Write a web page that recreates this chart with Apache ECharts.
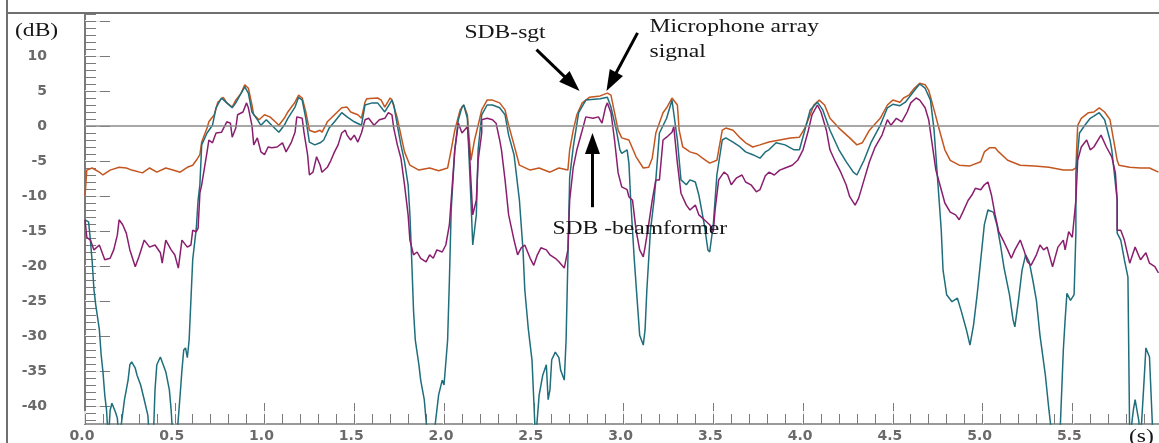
<!DOCTYPE html>
<html>
<head>
<meta charset="utf-8">
<script src="https://cdn.jsdelivr.net/npm/echarts@6/dist/echarts.min.js"></script>
<style>
  html, body { margin: 0; padding: 0; background: #fff; }
  #chart { width: 1159px; height: 443px; }
</style>
</head>
<body>
<div id="chart"></div>
<script>
// Level of each signal over time: time in seconds, level in dB.
// Values below the bottom of the scale are clipped by the plot area.

// Microphone array signal
const micT = [0.00,0.01,0.04,0.08,0.10,0.14,0.19,0.23,0.26,0.32,
  0.36,0.40,0.45,0.49,0.53,0.57,0.60,0.62,0.64,0.65,
  0.68,0.69,0.72,0.74,0.77,0.79,0.82,0.84,0.87,0.89,
  0.91,0.93,0.94,0.97,1.00,1.03,1.06,1.08,1.11,1.13,
  1.17,1.19,1.21,1.23,1.25,1.28,1.31,1.32,1.35,1.39,
  1.43,1.46,1.48,1.52,1.54,1.56,1.57,1.63,1.65,1.67,
  1.70,1.71,1.74,1.76,1.78,1.81,1.86,1.92,1.97,2.02,
  2.04,2.06,2.09,2.11,2.13,2.15,2.17,2.19,2.21,2.24,
  2.27,2.31,2.34,2.36,2.39,2.42,2.48,2.53,2.59,2.64,
  2.69,2.70,2.72,2.74,2.77,2.81,2.87,2.91,2.93,2.95,
  2.97,2.99,3.03,3.07,3.11,3.14,3.16,3.18,3.22,3.24,
  3.27,3.30,3.31,3.33,3.37,3.41,3.44,3.48,3.52,3.55,
  3.57,3.61,3.65,3.68,3.72,3.76,3.81,3.87,3.93,3.98,
  4.01,4.04,4.06,4.09,4.12,4.15,4.20,4.26,4.30,4.33,
  4.37,4.43,4.47,4.50,4.54,4.56,4.59,4.62,4.65,4.68,
  4.70,4.73,4.76,4.79,4.82,4.87,4.93,4.99,5.01,5.04,
  5.07,5.09,5.14,5.21,5.29,5.37,5.45,5.50,5.52,5.53,
  5.55,5.59,5.62,5.65,5.68,5.71,5.73,5.75,5.76,5.82,
  5.88,5.93,5.98];
const micDb = [-10.0,-6.3,-6.0,-6.6,-7.0,-6.3,-5.9,-6.0,-6.3,-6.7,
  -6.0,-6.6,-6.0,-6.3,-6.6,-5.9,-5.6,-4.9,-4.1,-2.3,
  -0.3,0.6,1.6,3.4,4.1,3.3,2.7,3.7,4.7,5.9,
  5.4,3.0,1.6,0.9,1.6,1.3,0.6,0.1,1.1,2.0,
  3.4,4.4,4.0,2.0,-0.6,-0.9,-0.6,-0.9,0.6,1.6,
  2.6,2.7,2.0,1.6,1.1,3.4,3.9,4.0,3.7,2.7,
  4.0,3.7,1.1,-1.3,-3.7,-5.6,-6.3,-6.0,-6.4,-6.0,
  -3.4,-0.6,2.3,3.0,1.6,-4.9,-2.0,0.1,2.3,3.7,
  3.7,3.3,2.3,0.1,-2.7,-5.6,-6.3,-6.0,-6.6,-6.0,
  -6.3,-3.4,-0.6,1.6,3.3,4.1,4.3,4.7,4.4,1.9,
  -0.6,-1.7,-2.0,-4.4,-6.0,-5.9,-4.6,-1.0,1.9,2.6,
  4.0,3.0,-0.6,-3.0,-3.7,-4.0,-4.6,-5.3,-4.9,-0.6,
  -0.3,-0.6,-1.7,-2.4,-3.0,-2.7,-2.3,-2.0,-1.7,-1.6,
  -0.3,1.6,3.0,3.7,3.0,1.1,-0.3,-1.7,-2.7,-2.4,
  -0.6,1.1,3.0,3.7,3.4,4.0,4.4,5.4,6.1,5.9,
  5.1,2.3,-0.6,-3.4,-4.9,-5.6,-5.7,-5.1,-3.7,-3.1,
  -3.1,-3.7,-4.9,-5.6,-5.7,-5.9,-6.3,-6.3,-6.0,0.1,
  1.1,1.9,2.0,2.6,2.0,0.9,-2.0,-4.9,-5.6,-5.9,
  -6.0,-6.0,-6.6];

// SDB-sgt output
const sgtT = [0.00,0.02,0.03,0.04,0.05,0.06,0.08,0.09,0.10,0.11,
  0.12,0.13,0.14,0.15,0.17,0.18,0.19,0.20,0.22,0.24,
  0.25,0.26,0.28,0.29,0.31,0.33,0.35,0.36,0.38,0.39,
  0.40,0.42,0.43,0.45,0.47,0.48,0.49,0.51,0.53,0.54,
  0.55,0.56,0.57,0.58,0.59,0.60,0.62,0.63,0.64,0.65,
  0.68,0.71,0.73,0.76,0.79,0.82,0.84,0.87,0.89,0.91,
  0.93,0.96,0.98,1.01,1.04,1.08,1.11,1.13,1.17,1.19,
  1.21,1.23,1.25,1.28,1.31,1.33,1.36,1.39,1.43,1.46,
  1.50,1.54,1.56,1.60,1.63,1.67,1.71,1.72,1.74,1.76,
  1.78,1.80,1.81,1.82,1.83,1.84,1.86,1.87,1.89,1.91,
  1.94,1.97,1.99,2.00,2.02,2.03,2.04,2.06,2.08,2.10,
  2.11,2.13,2.15,2.16,2.18,2.19,2.21,2.24,2.27,2.31,
  2.34,2.36,2.39,2.42,2.44,2.45,2.47,2.49,2.50,2.51,
  2.52,2.53,2.55,2.57,2.58,2.59,2.60,2.62,2.64,2.65,
  2.67,2.68,2.69,2.70,2.72,2.75,2.79,2.87,2.91,2.93,
  2.96,2.98,2.99,3.02,3.03,3.04,3.06,3.08,3.09,3.11,
  3.12,3.13,3.15,3.17,3.18,3.20,3.24,3.27,3.30,3.32,
  3.35,3.37,3.40,3.42,3.45,3.47,3.48,3.50,3.52,3.55,
  3.57,3.61,3.65,3.68,3.72,3.76,3.79,3.81,3.85,3.90,
  3.95,3.98,4.01,4.04,4.08,4.11,4.15,4.20,4.24,4.28,
  4.30,4.34,4.38,4.43,4.47,4.50,4.54,4.57,4.60,4.63,
  4.65,4.68,4.71,4.73,4.75,4.77,4.78,4.80,4.83,4.86,
  4.88,4.91,4.93,4.95,4.97,4.99,5.01,5.03,5.06,5.08,
  5.10,5.12,5.15,5.17,5.18,5.20,5.22,5.24,5.26,5.28,
  5.30,5.32,5.35,5.37,5.39,5.43,5.45,5.46,5.47,5.49,
  5.51,5.52,5.52,5.54,5.57,5.60,5.62,5.65,5.68,5.71,
  5.72,5.75,5.75,5.77,5.79,5.81,5.82,5.84,5.85,5.87,
  5.88,5.90,5.91,5.93,5.95,5.98];
const sgtDb = [-13.4,-13.7,-16.3,-19.4,-23.4,-25.6,-29.1,-32.7,-35.1,-38.4,
  -40.6,-45,-40.6,-39.6,-40.9,-41.7,-45,-45,-39.1,-36.3,
  -34.1,-33.7,-34.6,-35.6,-37.0,-39.1,-41.3,-45,-45,-37.7,
  -34.1,-33.0,-33.7,-35.1,-37.7,-40.6,-45,-45,-38.4,-34.9,
  -32.0,-31.7,-33.1,-30.6,-24.9,-19.1,-14.6,-10.6,-8.4,-2.7,
  -1.0,0.1,2.6,4.0,3.3,2.6,3.3,4.7,5.6,4.7,
  2.0,0.9,0.1,0.9,0.1,-0.9,0.1,1.1,2.7,4.1,
  3.7,1.1,-2.3,-2.7,-2.4,-2.0,-0.3,0.6,1.9,1.3,
  0.6,0.1,3.0,3.3,3.3,2.0,3.7,3.0,0.1,-2.7,
  -5.1,-8.4,-12.7,-19.1,-26.3,-30.6,-34.1,-36.3,-39.1,-45,
  -45,-38.4,-36.3,-37.0,-30.6,-22.0,-12.0,-3.4,0.9,2.7,
  3.0,1.1,-10.6,-17.0,-12.7,-3.4,1.6,3.0,3.0,2.6,
  1.6,-1.3,-4.1,-10.6,-17.7,-23.4,-29.1,-33.4,-39.1,-45,
  -45,-38.4,-35.6,-34.1,-39.1,-37.7,-33.4,-32.3,-33.1,-34.9,
  -36.3,-30.6,-19.1,-7.3,-3.0,1.9,3.7,3.9,4.1,2.7,
  -0.6,-3.4,-3.9,-3.4,-5.3,-10.6,-19.1,-26.3,-29.9,-31.3,
  -29.1,-23.4,-14.9,-10.6,-7.7,-1.0,1.1,3.7,-2.0,-7.7,
  -8.4,-7.7,-8.0,-9.9,-14.1,-17.7,-18.0,-14.1,-7.0,-2.0,
  -1.7,-2.3,-3.0,-3.7,-4.1,-4.6,-3.7,-3.4,-2.4,-2.7,
  -3.4,-3.4,-0.6,2.3,3.4,2.3,-0.6,-3.4,-5.1,-6.6,
  -7.0,-4.9,-2.3,0.1,2.6,3.1,2.9,3.4,4.4,5.4,
  6.0,5.4,3.7,-0.6,-7.7,-14.9,-20.6,-24.1,-25.1,-24.6,
  -26.3,-29.1,-31.3,-28.4,-24.1,-19.1,-14.1,-12.0,-12.3,-14.1,
  -17.0,-20.3,-24.1,-27.7,-28.7,-24.9,-20.6,-18.4,-19.4,-22.0,
  -24.9,-29.9,-35.6,-40.6,-45,-45,-32.0,-27.7,-23.9,-24.9,
  -24.1,-15.3,-6.7,-1.0,0.1,1.1,1.4,1.9,0.9,-2.0,
  -3.4,-10.6,-15.3,-16.3,-19.1,-21.6,-45,-40.6,-39.1,-42.0,
  -45,-36.3,-31.7,-33.0,-45,-45];

// SDB-beamformer output
const bfT = [0.00,0.01,0.03,0.04,0.05,0.08,0.10,0.11,0.14,0.16,
  0.18,0.19,0.21,0.23,0.25,0.28,0.29,0.30,0.33,0.36,
  0.39,0.42,0.43,0.45,0.48,0.50,0.52,0.54,0.57,0.59,
  0.60,0.62,0.63,0.64,0.65,0.68,0.69,0.71,0.73,0.76,
  0.79,0.81,0.82,0.84,0.85,0.88,0.90,0.91,0.93,0.94,
  0.96,0.98,1.00,1.02,1.04,1.07,1.10,1.12,1.15,1.17,
  1.18,1.21,1.22,1.24,1.25,1.27,1.29,1.31,1.32,1.35,
  1.37,1.39,1.41,1.43,1.45,1.46,1.48,1.50,1.52,1.54,
  1.56,1.58,1.61,1.64,1.67,1.69,1.71,1.72,1.74,1.76,
  1.78,1.80,1.81,1.83,1.85,1.87,1.90,1.92,1.94,1.96,
  1.99,2.01,2.03,2.05,2.06,2.08,2.10,2.13,2.14,2.16,
  2.18,2.19,2.21,2.21,2.24,2.27,2.29,2.31,2.32,2.34,
  2.36,2.39,2.41,2.43,2.45,2.48,2.50,2.52,2.54,2.57,
  2.59,2.62,2.64,2.67,2.69,2.70,2.72,2.74,2.77,2.79,
  2.83,2.86,2.88,2.90,2.91,2.93,2.95,2.97,2.99,3.02,
  3.03,3.05,3.07,3.09,3.11,3.12,3.14,3.16,3.18,3.20,
  3.22,3.24,3.27,3.28,3.30,3.32,3.35,3.37,3.40,3.42,
  3.45,3.48,3.50,3.51,3.53,3.56,3.58,3.60,3.63,3.66,
  3.68,3.71,3.74,3.76,3.79,3.81,3.84,3.87,3.90,3.94,
  3.97,4.00,4.03,4.05,4.08,4.10,4.13,4.15,4.18,4.21,
  4.24,4.26,4.29,4.31,4.34,4.37,4.40,4.44,4.47,4.49,
  4.52,4.55,4.58,4.60,4.63,4.65,4.68,4.70,4.72,4.74,
  4.77,4.79,4.82,4.85,4.87,4.89,4.92,4.94,4.96,4.99,
  5.01,5.03,5.05,5.07,5.09,5.12,5.14,5.16,5.18,5.21,
  5.23,5.25,5.27,5.30,5.32,5.34,5.36,5.39,5.42,5.45,
  5.46,5.48,5.50,5.52,5.53,5.55,5.58,5.60,5.62,5.66,
  5.69,5.72,5.74,5.75,5.75,5.77,5.79,5.82,5.85,5.88,
  5.91,5.93,5.96,5.98];
const bfDb = [-13.4,-15.9,-16.3,-17.0,-17.7,-17.0,-18.4,-19.1,-18.9,-17.7,
  -15.6,-13.4,-14.1,-15.3,-17.7,-20.1,-19.4,-18.7,-16.3,-17.3,
  -17.0,-18.1,-19.6,-16.3,-17.7,-18.4,-20.3,-16.3,-17.3,-17.0,
  -14.9,-15.1,-14.6,-9.6,-8.4,-3.7,-2.0,-2.4,-1.0,-0.9,
  0.6,0.4,-1.6,-0.3,1.6,2.0,3.3,2.6,0.1,-2.7,
  -1.7,-3.7,-4.1,-3.0,-3.1,-3.0,-2.4,-3.7,-2.3,-0.9,
  1.3,1.1,-0.9,-4.1,-7.0,-6.6,-4.4,-5.6,-6.6,-5.9,
  -4.9,-3.7,-2.7,-1.0,-0.6,-1.3,-2.0,-1.3,-2.3,-1.0,
  0.9,1.1,0.1,0.9,1.1,1.9,1.6,-0.3,-2.7,-4.6,
  -8.4,-12.7,-16.3,-18.4,-18.0,-18.9,-19.4,-18.4,-18.9,-17.7,
  -18.0,-17.0,-14.1,-7.0,-3.4,0.4,-1.0,-0.1,-3.0,-12.7,
  -10.6,-4.9,-1.0,0.9,1.1,0.9,0.4,-2.0,-3.4,-7.7,
  -12.7,-16.3,-18.4,-17.4,-17.0,-18.9,-19.9,-18.4,-17.4,-17.7,
  -18.4,-18.9,-19.4,-20.3,-17.7,-10.6,-5.9,-3.4,-0.6,1.3,
  1.1,1.3,0.4,2.7,3.3,1.9,-2.0,-6.7,-8.7,-9.1,
  -10.1,-10.6,-14.9,-17.7,-18.7,-17.3,-14.1,-10.6,-7.7,-7.7,
  -2.0,-1.6,-0.9,-0.1,-5.3,-9.6,-11.3,-12.0,-11.3,-12.7,
  -13.4,-14.1,-15.1,-12.0,-7.7,-6.6,-7.0,-8.4,-7.4,-7.0,
  -8.0,-8.4,-9.4,-9.1,-7.1,-6.6,-7.0,-6.3,-6.0,-5.6,
  -4.9,-3.4,-0.6,1.6,3.0,2.0,-0.6,-3.4,-5.1,-6.6,
  -8.4,-10.1,-11.3,-10.3,-7.7,-5.1,-3.1,-1.3,0.9,0.1,
  1.1,0.6,2.0,3.3,4.0,3.7,2.6,0.9,-2.7,-6.3,
  -9.1,-11.0,-12.3,-12.7,-13.4,-12.3,-10.6,-9.9,-8.9,-9.1,
  -8.4,-8.0,-9.9,-12.7,-15.1,-16.6,-17.7,-18.9,-17.7,-16.3,
  -17.7,-19.4,-19.9,-18.4,-17.0,-17.7,-17.3,-20.1,-17.3,-16.3,
  -17.7,-15.1,-15.9,-10.6,-4.9,-3.0,-2.0,-3.4,-3.0,-1.3,
  -3.0,-4.4,-6.7,-10.6,-14.9,-14.9,-16.3,-19.6,-17.3,-19.1,
  -18.1,-19.6,-20.1,-21.0];

// Axis extent and tick labels
const T_MIN = 0, T_MAX = 5.983;
const DB_MIN = -42.57, DB_MAX = 16.14;
const xTickLabels = ['0.0','0.5','1.0','1.5','2.0','2.5','3.0','3.5','4.0','4.5','5.0','5.5'];
const yTickLabels = ['10','5','0','-5','-10','-15','-20','-25','-30','-35','-40'];
const yMajorTicks = [15,10,5,0,-5,-10,-15,-20,-25,-30,-35,-40];

const xMajor = xTickLabels.map(Number);
const yLabelValues = yTickLabels.map(Number);
const xMinor = [];
for (let i = 0; i <= 59; i++) xMinor.push(+(i * 0.1).toFixed(1));
const yMinor = [];
for (let v = -42; v <= 16; v++) yMinor.push(v);

const zip = (ts, vs) => ts.map((t, i) => [t, vs[i]]);

const GRAY = '#7a7a7a';
const LABEL_GRAY = '#6a6a6a';
const SERIF = "'Liberation Serif', 'Times New Roman', serif";
const STRETCH = 1.24;

function xAx(extra) {
  return Object.assign({
    type: 'value', min: T_MIN, max: T_MAX, position: 'bottom', offset: 0,
    splitLine: { show: false },
    axisLine: { show: false, onZero: false },
    axisLabel: { show: false }, axisTick: { show: false }
  }, extra);
}
function yAx(extra) {
  return Object.assign({
    type: 'value', min: DB_MIN, max: DB_MAX, position: 'left', offset: 0,
    splitLine: { show: false },
    axisLine: { show: false, onZero: false },
    axisLabel: { show: false }, axisTick: { show: false }
  }, extra);
}
const labelFont = {
  fontFamily: "'DejaVu Sans', Verdana, sans-serif", fontWeight: 'bold',
  fontSize: 14, color: LABEL_GRAY
};

const chart = echarts.init(document.getElementById('chart'), null, { renderer: 'canvas' });

const option = {
  animation: false,
  backgroundColor: '#fff',
  grid: { left: 85, top: 13, width: 1074, height: 411, containLabel: false },
  xAxis: [
    // long major ticks
    xAx({ axisTick: { show: true, inside: true, length: 21, customValues: xMajor,
      lineStyle: { color: GRAY, width: 1 } } }),
    // small break inside each major tick
    xAx({ axisTick: { show: true, inside: true, length: 13, customValues: xMajor,
      lineStyle: { color: '#fff', width: 1.6 } } }),
    // main axis: line, minor ticks, labels
    xAx({
      axisLine: { show: true, onZero: false, lineStyle: { color: GRAY, width: 1.5 } },
      axisTick: { show: true, inside: true, length: 10, customValues: xMinor,
        lineStyle: { color: GRAY, width: 1 } },
      axisLabel: Object.assign({
        show: true, customValues: xMajor, margin: 5, padding: [0, 6, 0, 0],
        formatter: v => xTickLabels[xMajor.findIndex(m => Math.abs(m - v) < 1e-6)]
      }, labelFont)
    })
  ],
  yAxis: [
    yAx({ axisTick: { show: true, inside: true, length: 25, customValues: yMajorTicks,
      lineStyle: { color: GRAY, width: 1 } } }),
    yAx({ axisTick: { show: true, inside: true, length: 15, customValues: yMajorTicks,
      lineStyle: { color: '#fff', width: 1.6 } } }),
    yAx({
      axisLine: { show: true, onZero: false, lineStyle: { color: GRAY, width: 2 } },
      axisTick: { show: true, inside: true, length: 11, customValues: yMinor,
        lineStyle: { color: GRAY, width: 1 } },
      axisLabel: Object.assign({
        show: true, customValues: yLabelValues, margin: 38, align: 'right',
        formatter: v => yTickLabels[yLabelValues.findIndex(m => Math.abs(m - v) < 1e-6)]
      }, labelFont)
    })
  ],
  series: [
    {
      name: 'Microphone array signal', type: 'line', xAxisIndex: 2, yAxisIndex: 2,
      data: zip(micT, micDb), symbol: 'none', clip: true,
      lineStyle: { color: '#c4561f', width: 1.5 },
      markLine: {
        silent: true, symbol: 'none', label: { show: false },
        lineStyle: { color: '#8a8a8a', type: 'solid', width: 1.5 },
        data: [{ yAxis: 0 }]
      }
    },
    {
      name: 'SDB-sgt', type: 'line', xAxisIndex: 2, yAxisIndex: 2,
      data: zip(sgtT, sgtDb), symbol: 'none', clip: true,
      lineStyle: { color: '#1f6e7c', width: 1.5 }
    },
    {
      name: 'SDB-beamformer', type: 'line', xAxisIndex: 2, yAxisIndex: 2,
      data: zip(bfT, bfDb), symbol: 'none', clip: true,
      lineStyle: { color: '#8a1e6e', width: 1.5 }
    }
  ]
};
chart.setOption(option);

// Annotations, anchored in data units (s, dB)
const notes = [
  { text: 'SDB-sgt', at: [2.114, 13.3] },
  { text: 'Microphone array', at: [3.145, 14.1] },
  { text: 'signal', at: [3.145, 10.6] },
  { text: 'SDB -beamformer', at: [2.604, -14.7] }
];
const arrows = [
  { tail: [2.515, 10.9], tip: [2.755, 5.0] },
  { tail: [3.078, 13.3], tip: [2.905, 5.0] },
  { tail: [2.827, -11.6], tip: [2.827, -1.0] }
];

const toPx = p => chart.convertToPixel({ xAxisIndex: 2, yAxisIndex: 2 }, p);

function serifText(text, x, y) {
  return {
    type: 'text', x: x, y: y, scaleX: STRETCH, z: 20,
    style: { text: text, fontFamily: SERIF, fontSize: 19, fill: '#161616',
      align: 'left', verticalAlign: 'middle' }
  };
}

function arrowShapes(tail, tip) {
  const dx = tip[0] - tail[0], dy = tip[1] - tail[1];
  const len = Math.hypot(dx, dy);
  const ux = dx / len, uy = dy / len;
  const headLen = 21, headHalf = 7.5;
  const bx = tip[0] - ux * headLen, by = tip[1] - uy * headLen;
  const nx = -uy, ny = ux;
  return [
    { type: 'line', z: 20,
      shape: { x1: tail[0], y1: tail[1], x2: bx + ux * 2, y2: by + uy * 2 },
      style: { stroke: '#000', lineWidth: 3 } },
    { type: 'polygon', z: 20,
      shape: { points: [[tip[0], tip[1]],
        [bx + nx * headHalf, by + ny * headHalf],
        [bx - nx * headHalf, by - ny * headHalf]] },
      style: { fill: '#000' } }
  ];
}

const graphics = [];
// outer frame
graphics.push({ type: 'line', z: 15, shape: { x1: 7, y1: 0, x2: 7, y2: 443 },
  style: { stroke: '#707070', lineWidth: 2 } });
graphics.push({ type: 'line', z: 15, shape: { x1: 6, y1: 13, x2: 1159, y2: 13 },
  style: { stroke: '#707070', lineWidth: 2 } });
// axis units
graphics.push(serifText('(dB)', 15, 31));
graphics.push(serifText('(s)', 1129, 437));

notes.forEach(n => {
  const p = toPx(n.at);
  graphics.push(serifText(n.text, p[0], p[1]));
});
arrows.forEach(a => {
  arrowShapes(toPx(a.tail), toPx(a.tip)).forEach(g => graphics.push(g));
});

chart.setOption({ graphic: { elements: graphics } });
</script>
</body>
</html>
